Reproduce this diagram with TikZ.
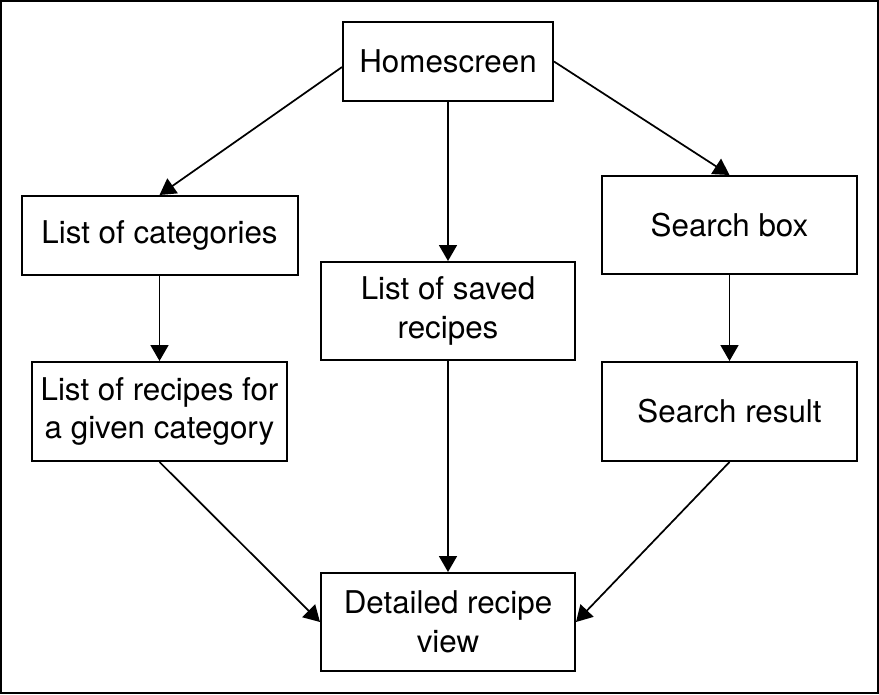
\documentclass[tikz,border=0pt]{standalone}
\usepackage{fontspec}
\setmainfont{TeX Gyre Heros}
\usetikzlibrary{arrows.meta}

\tikzset{every picture/.style={line width=0.75pt}}
\tikzset{
	screen/.style={draw, line width=1.5pt, align=center, inner sep=0pt, font=\fontsize{23.5}{29}\selectfont},
	flow/.style={line width=1.3pt, -{Triangle[length=12pt,width=13.5pt]}}
}

\begin{document}
\begin{tikzpicture}[x=0.75pt,y=0.75pt,yscale=-1,xscale=1]
	\useasboundingbox (0,0) rectangle (879,694);
	%Shape: Rectangle [frame]
	\draw [line width=1.5pt] (1,1) rectangle (877.5,692.5);

	%Shape: Rectangle [home]
	\node [screen, minimum width=157.5pt, minimum height=59.25pt] (home) at (448,61.5) {Homescreen};
	%Shape: Rectangle [categories]
	\node [screen, minimum width=207pt, minimum height=59.25pt] (cat) at (159.5,235.5) {List of categories};
	%Shape: Rectangle [saved]
	\node [screen, minimum width=190.5pt, minimum height=73.5pt] (saved) at (448,311) {List of saved\\recipes};
	%Shape: Rectangle [search]
	\node [screen, minimum width=191.25pt, minimum height=73.5pt] (search) at (729.5,225) {Search box};
	%Shape: Rectangle [recipes]
	\node [screen, minimum width=191.25pt, minimum height=74.25pt] (recipes) at (159.5,411.5) {List of recipes for\\a given category};
	%Shape: Rectangle [result]
	\node [screen, minimum width=191.25pt, minimum height=74.25pt] (result) at (729.5,411.5) {Search result};
	%Shape: Rectangle [detail]
	\node [screen, minimum width=190.5pt, minimum height=73.5pt] (detail) at (448,622) {Detailed recipe\\view};

	%Straight Lines
	\draw [flow] (home.183.5) -- (cat.north);
	\draw [flow] (home.south) -- (saved.north);
	\draw [flow] (home.east) -- (search.north);
	\draw [flow] (cat.south) -- (recipes.north);
	\draw [flow] (search.south) -- (result.north);
	\draw [flow] (recipes.south) -- (detail.west);
	\draw [flow] (saved.south) -- (detail.north);
	\draw [flow] (result.south) -- (detail.east);

\end{tikzpicture}
\end{document}
